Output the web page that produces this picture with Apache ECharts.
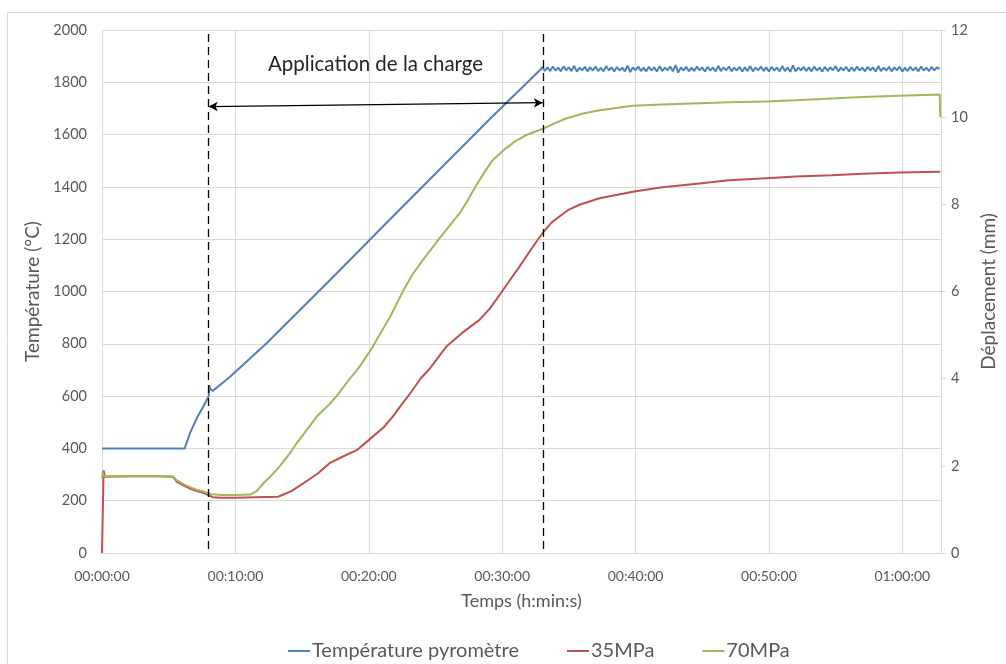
<!DOCTYPE html>
<html lang="fr">
    <head>
        <meta charset="utf-8">
        <title>Température et déplacement</title>
        <script src="https://cdn.jsdelivr.net/npm/echarts@6/dist/echarts.min.js"></script>
        <style>
            html, body { margin: 0; padding: 0; background: #fff; }
            #chart { width: 1006px; height: 664px; }
        </style>
    </head>
    <body>
        <div id="chart"></div>
        <script>
            // temps en minutes, température en °C
            var tempTimes = [0, 6.2, 6.6, 7.1, 7.6, 8.0, 8.05, 8.1, 8.3, 9.6, 12.3, 17.1, 20.8, 29.0, 32.9];
            var tempValues = [400, 400, 459, 515, 560, 600, 642, 628, 620, 674, 800, 1044, 1235, 1656, 1850];
            // palier bruité après 33 min (un point toutes les 0.2 min)
            var plateauStart = 33.0;
            var plateauStep = 0.2;
            var plateauValues = [
                1858, 1844, 1857, 1843, 1860, 1845, 1856, 1842, 1861, 1846,
                1857, 1843, 1863, 1841, 1856, 1846, 1859, 1842, 1857, 1845,
                1860, 1843, 1855, 1842, 1862, 1846, 1857, 1841, 1859, 1845,
                1856, 1842, 1864, 1839, 1857, 1846, 1860, 1843, 1856, 1842,
                1859, 1845, 1857, 1841, 1862, 1843, 1856, 1846, 1860, 1842,
                1866, 1837, 1857, 1845, 1859, 1842, 1856, 1843, 1860, 1846,
                1857, 1841, 1859, 1845, 1856, 1842, 1863, 1843, 1857, 1846,
                1860, 1842, 1856, 1845, 1859, 1841, 1857, 1843, 1862, 1842,
                1856, 1846, 1860, 1843, 1857, 1841, 1859, 1845, 1856, 1842,
                1862, 1843, 1857, 1840, 1865, 1842, 1856, 1846, 1859, 1843,
                1857, 1842, 1860, 1845, 1856, 1841, 1859, 1843, 1857, 1846,
                1862, 1842, 1856, 1845, 1859, 1841, 1857, 1843, 1860, 1845,
                1856, 1842, 1859, 1846, 1857, 1841, 1862, 1843, 1856, 1845,
                1859, 1842, 1857, 1846, 1860, 1841, 1856, 1843, 1859, 1845,
                1857, 1842, 1860, 1845, 1856, 1843, 1859, 1846, 1857, 1851
            ];

            // déplacement en mm
            var mpa35Times = [0, 0.12, 0.2, 2, 4, 5.3, 5.6, 6.1, 6.6, 7.1, 7.6, 8.3, 9, 10, 11.5, 13.2, 14.2, 15.3, 16.2, 17.1,
                18.1, 19.1, 20.3, 21.1, 21.8, 22.5, 23.1, 23.9, 24.6, 25.8, 27, 28.3, 29.1, 29.9, 30.6, 31.3, 32.2, 33.1,
                33.7, 34.3, 35.0, 35.8, 37.3, 39.8, 42, 44.8, 47, 49.8, 52, 54.7, 57, 59.8, 62.85];
            var mpa35Values = [0, 1.9, 1.75, 1.76, 1.76, 1.75, 1.64, 1.55, 1.48, 1.42, 1.38, 1.28, 1.27, 1.27, 1.28, 1.29, 1.42, 1.64, 1.83, 2.07,
                2.22, 2.36, 2.67, 2.88, 3.13, 3.42, 3.66, 4.01, 4.24, 4.73, 5.05, 5.35, 5.62, 5.96, 6.27, 6.57, 6.98, 7.37,
                7.58, 7.72, 7.88, 7.99, 8.14, 8.29, 8.39, 8.48, 8.55, 8.60, 8.64, 8.67, 8.70, 8.73, 8.75];

            var mpa70Times = [0, 0.05, 0.1, 2, 4, 5.3, 5.6, 6.1, 6.6, 7.1, 7.6, 8.2, 9, 10, 11.1, 11.6, 12.1, 12.7, 13.3, 14,
                14.6, 15.3, 16.1, 17.1, 17.8, 18.3, 19.3, 20.3, 20.8, 21.6, 22.6, 23.3, 24.05, 25.3, 26.8, 27.4, 28.0, 28.7,
                29.3, 30.3, 31.0, 31.8, 33.1, 34.0, 34.8, 36, 37.3, 39.8, 42, 44.8, 47, 49.8, 52, 54.7, 57, 59.8, 62.8, 62.85];
            var mpa70Values = [1.70, 1.86, 1.76, 1.76, 1.76, 1.76, 1.67, 1.58, 1.51, 1.45, 1.41, 1.35, 1.33, 1.33, 1.34, 1.42, 1.60, 1.78, 1.98, 2.25,
                2.52, 2.80, 3.13, 3.43, 3.68, 3.89, 4.27, 4.73, 5.0, 5.42, 6.03, 6.40, 6.72, 7.22, 7.79, 8.08, 8.41, 8.75,
                9.02, 9.29, 9.45, 9.59, 9.74, 9.87, 9.97, 10.08, 10.16, 10.26, 10.29, 10.32, 10.34, 10.36, 10.39, 10.43, 10.46, 10.49, 10.52, 10.0];

            var seriesNames = ['Température pyromètre', '35MPa', '70MPa'];
            var loadStart = 8.0;   // début application de la charge (min)
            var loadEnd = 33.05;   // fin (min)
            var arrowY = [1707, 1722];

            function pairs(xs, ys) {
                var out = [];
                for (var i = 0; i < xs.length; i++) {
                    out.push([xs[i], ys[i]]);
                }
                return out;
            }
            function pad(n) {
                return n < 10 ? '0' + n : '' + n;
            }
            function plain(v) {
                return String(v);
            }

            var tempData = pairs(tempTimes, tempValues);
            for (var i = 0; i < plateauValues.length; i++) {
                tempData.push([plateauStart + i * plateauStep, plateauValues[i]]);
            }

            var font = 'Lato, "Open Sans", sans-serif';
            var grey = '#595959';
            var gridColor = '#d9d9d9';

            var myChart = echarts.init(document.getElementById('chart'));
            var option = {
                animation: false,
                color: ['#4F81BD', '#C0504D', '#9BBB59'],
                textStyle: { fontFamily: font },
                grid: { left: 102, top: 30, right: 64, bottom: 111 },
                graphic: [
                    {
                        type: 'rect',
                        shape: { x: 7.5, y: 12.5, width: 1020, height: 680 },
                        style: { fill: 'none', stroke: gridColor, lineWidth: 1 },
                        silent: true
                    },
                    {
                        type: 'text',
                        left: 268,
                        top: 54,
                        style: { text: 'Application de la charge', fontSize: 20.5, fontFamily: font, fill: '#262626' },
                        silent: true
                    }
                ],
                legend: {
                    data: seriesNames,
                    left: 283,
                    top: 636,
                    icon: 'rect',
                    itemWidth: 22,
                    itemHeight: 2,
                    itemGap: 48,
                    textStyle: { fontSize: 20, color: grey, fontFamily: font, padding: [0, 0, 0, -3] }
                },
                xAxis: {
                    type: 'value',
                    min: 0,
                    max: 62.9,
                    interval: 10,
                    name: 'Temps (h:min:s)',
                    nameLocation: 'middle',
                    nameGap: 39,
                    nameTextStyle: { fontSize: 18, color: grey },
                    axisLine: { lineStyle: { color: gridColor } },
                    axisTick: { show: false },
                    axisLabel: {
                        color: grey,
                        fontSize: 14,
                        margin: 16,
                        showMaxLabel: false,
                        formatter: function (v) {
                            var h = Math.floor(v / 60);
                            var m = Math.round(v - h * 60);
                            return pad(h) + ':' + pad(m) + ':00';
                        }
                    },
                    splitLine: { show: true, lineStyle: { color: gridColor } }
                },
                yAxis: [
                    {
                        type: 'value',
                        min: 0,
                        max: 2000,
                        interval: 200,
                        name: 'Température (°C)',
                        nameLocation: 'middle',
                        nameGap: 60,
                        nameTextStyle: { fontSize: 19, color: grey },
                        axisLine: { show: false },
                        axisTick: { show: false },
                        axisLabel: { color: grey, fontSize: 14.5, margin: 15, formatter: plain },
                        splitLine: { show: true, lineStyle: { color: gridColor } }
                    },
                    {
                        type: 'value',
                        min: 0,
                        max: 12,
                        interval: 2,
                        name: 'Déplacement (mm)',
                        nameLocation: 'middle',
                        nameGap: 38,
                        nameTextStyle: { fontSize: 19, color: grey },
                        axisLine: { show: true, lineStyle: { color: gridColor } },
                        axisTick: { show: true, length: 5, lineStyle: { color: gridColor } },
                        axisLabel: { color: grey, fontSize: 14.5, margin: 10, formatter: plain },
                        splitLine: { show: false }
                    }
                ],
                series: [
                    {
                        name: seriesNames[0],
                        type: 'line',
                        yAxisIndex: 0,
                        showSymbol: false,
                        data: tempData,
                        lineStyle: { width: 2 },
                        markLine: {
                            silent: true,
                            symbol: ['none', 'none'],
                            label: { show: false },
                            data: [
                                [
                                    { coord: [loadStart, 1985], lineStyle: { color: '#000', width: 1.3, type: [8, 5] } },
                                    { coord: [loadStart, 0] }
                                ],
                                [
                                    { coord: [loadEnd, 1985], lineStyle: { color: '#000', width: 1.3, type: [8, 5] } },
                                    { coord: [loadEnd, 0] }
                                ],
                                [
                                    { coord: [loadStart, arrowY[0]], symbol: 'arrow', symbolSize: [7, 9], lineStyle: { color: '#000', width: 1.3, type: 'solid' } },
                                    { coord: [loadEnd, arrowY[1]], symbol: 'arrow', symbolSize: [7, 9] }
                                ]
                            ]
                        }
                    },
                    {
                        name: seriesNames[1],
                        type: 'line',
                        yAxisIndex: 1,
                        showSymbol: false,
                        data: pairs(mpa35Times, mpa35Values),
                        lineStyle: { width: 2 }
                    },
                    {
                        name: seriesNames[2],
                        type: 'line',
                        yAxisIndex: 1,
                        showSymbol: false,
                        data: pairs(mpa70Times, mpa70Values),
                        lineStyle: { width: 2 }
                    }
                ]
            };
            myChart.setOption(option);
        </script>
    </body>
</html>
